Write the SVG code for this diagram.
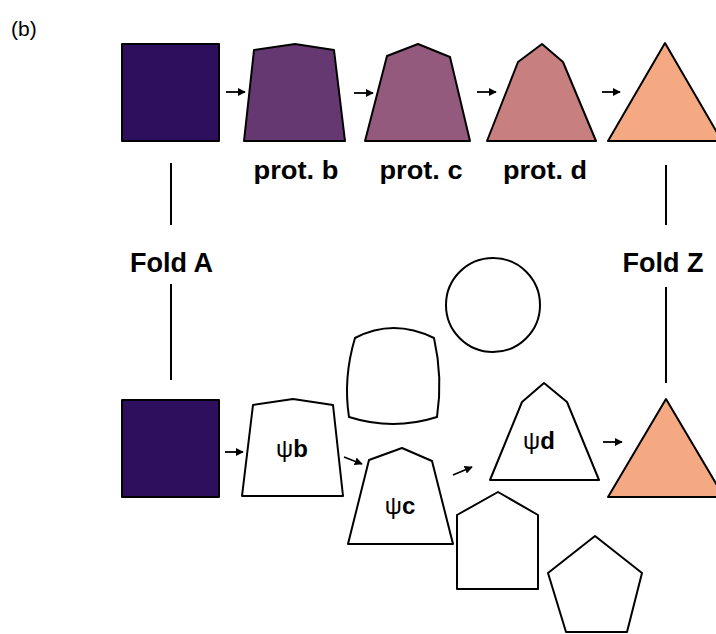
<svg xmlns="http://www.w3.org/2000/svg" width="716" height="634" viewBox="0 0 716 634">
<style>
.shp{stroke:#000;stroke-width:2;stroke-linejoin:round}
.open{fill:#fff}
.lbl{font-family:"Liberation Sans",Arial,sans-serif;font-weight:bold;fill:#000}
.big{font-size:27px;text-anchor:middle}
.prot{font-size:25px;text-anchor:middle}
.psi{font-size:24px;text-anchor:middle}
.psi .g{font-weight:normal}
.con{stroke:#000;stroke-width:2;fill:none}
.arr{stroke:#000;stroke-width:1.8;fill:none;marker-end:url(#ah)}
</style>
<defs>
<marker id="ah" viewBox="0 0 10 10" refX="9" refY="5" markerWidth="4.5" markerHeight="4.5" orient="auto" markerUnits="strokeWidth">
<path d="M0,0 L10,5 L0,10 Z" fill="#000"/>
</marker>
</defs>
<rect width="716" height="634" fill="#fff"/>
<text x="11" y="36" font-family="'Liberation Sans',Arial,sans-serif" font-size="21">(b)</text>

<g id="top-a"><rect class="shp" x="122" y="44" width="97" height="97" fill="#2e0f5e"/></g>
<g id="prot-b"><polygon class="shp" points="244,141 254,50 295,44 334,50 345,141" fill="#653872"/><text class="lbl prot" x="296" y="179" textLength="85" lengthAdjust="spacingAndGlyphs">prot. b</text></g>
<g id="prot-c"><polygon class="shp" points="365,141 387,56 418,44 450,57 470,141" fill="#935a7e"/><text class="lbl prot" x="421" y="179" textLength="83" lengthAdjust="spacingAndGlyphs">prot. c</text></g>
<g id="prot-d"><polygon class="shp" points="487,141 518,62 542,44 563,62 596,141" fill="#c7807f"/><text class="lbl prot" x="545" y="179" textLength="84" lengthAdjust="spacingAndGlyphs">prot. d</text></g>
<g id="top-z"><polygon class="shp" points="608,141 665,43 722,141" fill="#f4a983"/></g>

<g id="fold-a-label"><text class="lbl big" x="171.5" y="272">Fold A</text></g>
<g id="fold-z-label"><text class="lbl big" x="663" y="272">Fold Z</text></g>

<g id="bot-a"><rect class="shp" x="122" y="400" width="97" height="97" fill="#2e0f5e"/></g>
<g id="psi-b"><polygon class="shp open" points="242,496 253,405 293,399 333,405 343,496"/><text class="lbl psi" x="292" y="457"><tspan class="g">ψ</tspan>b</text></g>
<g id="psi-c"><polygon class="shp open" points="348,544 369,460 402,448 432,461 453,544"/><text class="lbl psi" x="400" y="514"><tspan class="g">ψ</tspan>c</text></g>
<g id="psi-d"><polygon class="shp open" points="490,480 522,402 544,383 567,402 599,480"/><text class="lbl psi" x="539" y="449"><tspan class="g">ψ</tspan>d</text></g>
<g id="bot-z"><polygon class="shp" points="608,497 666,399 724,497" fill="#f4a983"/></g>

<g id="circle"><circle class="shp open" cx="493" cy="305" r="47"/></g>
<g id="squircle"><path class="shp open" d="M355,338 Q393,318 434,338 Q443,378 437,417 Q393,431 349,417 Q343,378 355,338 Z"/></g>
<g id="house"><polygon class="shp open" points="457,589 457,515 498,492 538,515 538,589"/></g>
<g id="pentagon"><polygon class="shp open" points="595,536 642,573 627,632 566,632 548,573"/></g>

<g id="connectors">
<line class="con" x1="171" y1="163" x2="171" y2="225"/>
<line class="con" x1="171" y1="284" x2="171" y2="380"/>
<line class="con" x1="666" y1="165" x2="666" y2="225"/>
<line class="con" x1="666" y1="287" x2="666" y2="383"/>
<line class="arr" x1="226" y1="92" x2="245" y2="92"/>
<line class="arr" x1="354" y1="93" x2="373" y2="93"/>
<line class="arr" x1="477" y1="92" x2="496" y2="92"/>
<line class="arr" x1="602" y1="92" x2="620" y2="92"/>
<line class="arr" x1="225" y1="452" x2="243" y2="452"/>
<line class="arr" x1="344" y1="457" x2="362" y2="464"/>
<line class="arr" x1="453" y1="475" x2="472" y2="467"/>
<line class="arr" x1="603" y1="442" x2="622" y2="442"/>
</g>
</svg>
